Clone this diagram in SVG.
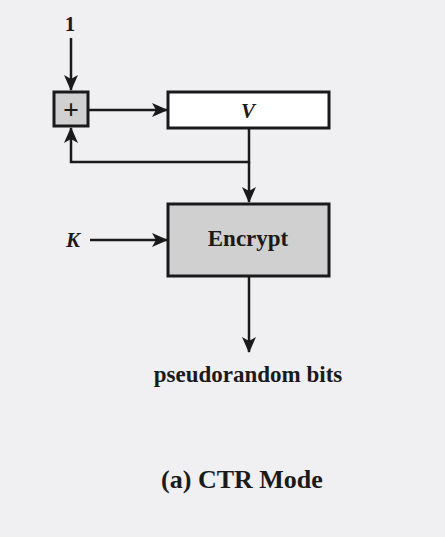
<svg xmlns="http://www.w3.org/2000/svg" width="445" height="537" viewBox="0 0 445 537">
<defs>
<marker id="ah" markerWidth="16" markerHeight="14" refX="15" refY="7" orient="auto" markerUnits="userSpaceOnUse" viewBox="0 0 16 14">
<path d="M0,0 L16,7 L0,14 L4,7 Z" fill="#1a1a1a"/>
</marker>
<style>
.box{stroke:#1a1a1a;stroke-width:3}
.ln{fill:none;stroke:#1a1a1a;stroke-width:2.5}
text{font-family:"Liberation Serif","Times New Roman","DejaVu Serif",serif;fill:#1a1a1a;font-weight:bold}
</style>
</defs>
<rect width="445" height="537" fill="#f0eff2"/>
<g id="connectors">
<line class="ln" x1="71" y1="38" x2="71" y2="90" marker-end="url(#ah)"/>
<line class="ln" x1="89" y1="110" x2="167" y2="110" marker-end="url(#ah)"/>
<polyline class="ln" points="249,128 249,162 71,162 71,128" marker-end="url(#ah)"/>
<line class="ln" x1="249" y1="162" x2="249" y2="202" marker-end="url(#ah)"/>
<line class="ln" x1="90" y1="240" x2="167" y2="240" marker-end="url(#ah)"/>
<line class="ln" x1="249" y1="276" x2="249" y2="352" marker-end="url(#ah)"/>
</g>
<g id="input1"><text x="70" y="31" font-size="21" text-anchor="middle">1</text></g>
<g id="plus">
<rect class="box" x="54" y="92" width="34" height="34" fill="#d0d0d0"/>
<text x="71" y="119" font-size="28" text-anchor="middle">+</text>
</g>
<g id="V">
<rect class="box" x="168" y="92" width="161" height="36" fill="#ffffff"/>
<text x="248" y="118" font-size="21" font-style="italic" text-anchor="middle">V</text>
</g>
<g id="K"><text x="73" y="247" font-size="21" font-style="italic" text-anchor="middle">K</text></g>
<g id="encrypt">
<rect class="box" x="168" y="204" width="161" height="72" fill="#d0d0d0"/>
<text x="248" y="246" font-size="23" text-anchor="middle">Encrypt</text>
</g>
<g id="output"><text x="248" y="382" font-size="23" text-anchor="middle">pseudorandom bits</text></g>
<g id="caption"><text x="242" y="488" font-size="26" text-anchor="middle">(a) CTR Mode</text></g>
</svg>
